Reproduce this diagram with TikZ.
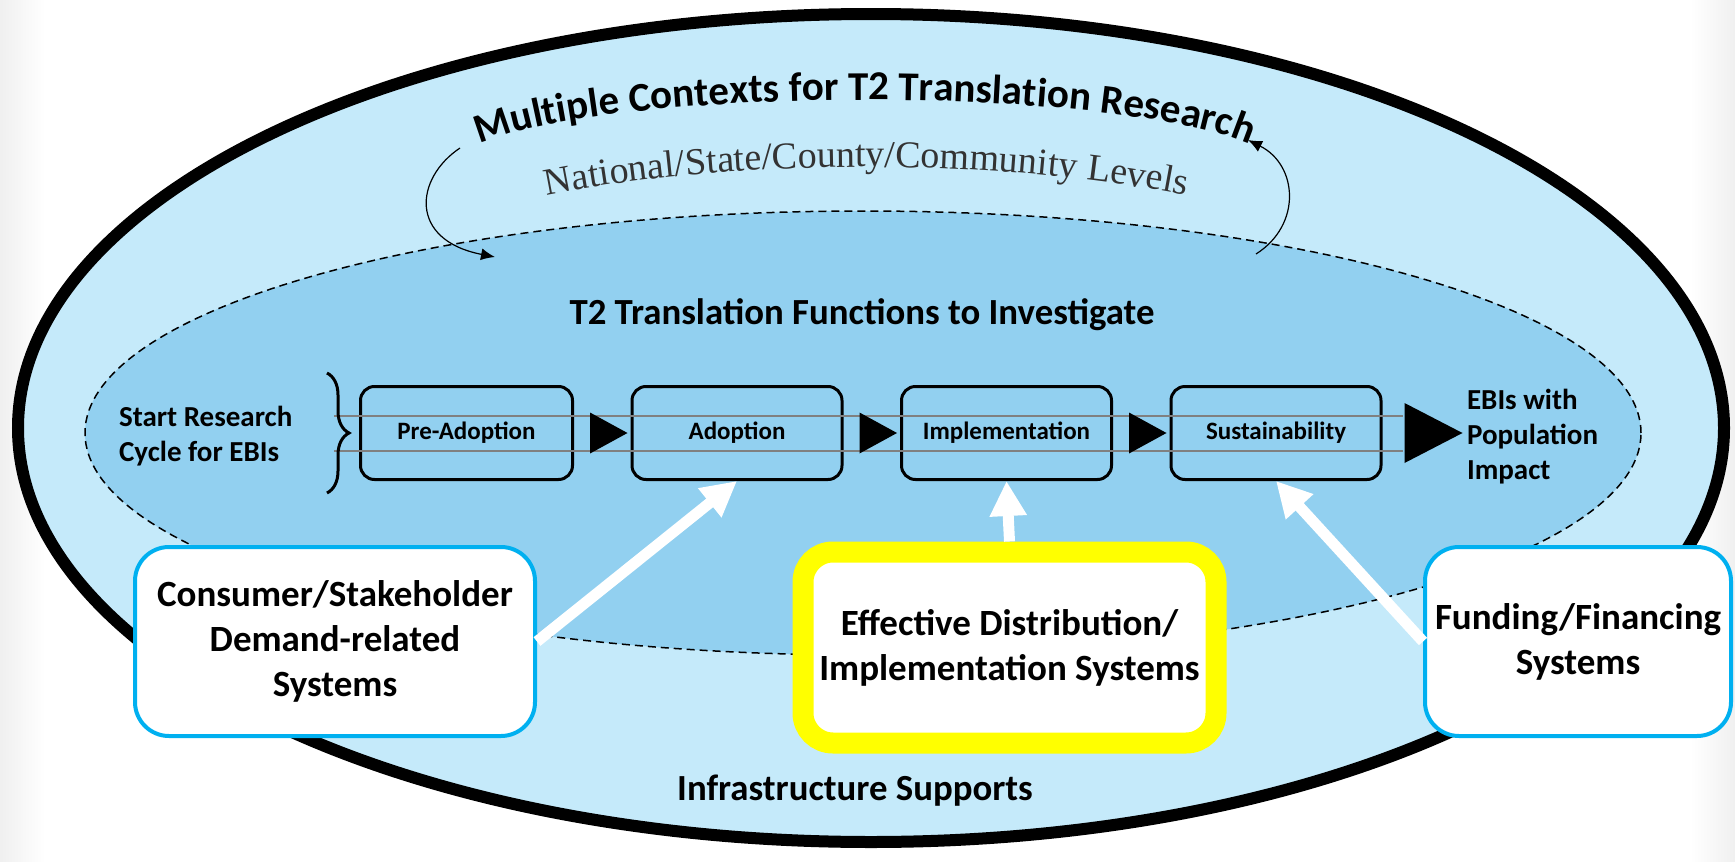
\documentclass[tikz,border=0pt]{standalone}
\usepackage{fontspec}
\setmainfont{Carlito}
\newfontfamily\levelfont{Liberation Serif}
\usetikzlibrary{positioning,calc,arrows.meta,decorations.text,decorations.pathreplacing}

\definecolor{outerblue}{RGB}{197,234,250}
\definecolor{innerblue}{RGB}{146,208,240}
\definecolor{boxblue}{RGB}{0,176,240}
\definecolor{hiyellow}{RGB}{255,255,0}

\tikzset{
  stage/.style={draw, line width=1.5pt, rounded corners=7pt, minimum width=105pt,
    minimum height=46.5pt, font=\fontsize{12.5pt}{15pt}\selectfont\bfseries},
  system/.style={draw=boxblue, fill=white, line width=2pt, rounded corners=17pt,
    minimum height=94.5pt, inner sep=2pt, align=center,
    font=\fontsize{18.5pt}{22.5pt}\selectfont\bfseries},
  whitearrow/.style={draw=white, line width=5.5pt, -{Triangle[length=17.5pt,width=17.5pt]}},
  loopedge/.style={line width=0.6pt, -{Latex[length=7pt,width=6pt]}},
  sidetext/.style={align=left, font=\fontsize{14.5pt}{17.5pt}\selectfont\bfseries},
  rail/.style={draw=black!50, line width=0.7pt},
}

\begin{document}
\begin{tikzpicture}[x=0.5pt,y=0.5pt]
    \useasboundingbox (0,0) rectangle (1735,-862);
    \fill[white] (0,0) rectangle (1735,-862);
    \shade[left color=black!6, right color=white] (0,0) rectangle (45,-862);
    \shade[left color=white, right color=black!6] (1690,0) rectangle (1735,-862);

    % Contexts and functions
    \draw[fill=outerblue, line width=6pt] (871,-428) ellipse[x radius=853, y radius=414];
    \draw[fill=innerblue, line width=0.75pt, dash pattern=on 4pt off 2.5pt]
        (863,-433) ellipse[x radius=778, y radius=222];

    % Curved headings
    \path[decorate, decoration={text along path, text align=center,
        text={|\fontsize{20.5pt}{24pt}\selectfont\bfseries|Multiple Contexts for T2 Translation Research}}]
        (475,-147) arc[start angle=162, end angle=18, x radius=410, y radius=68];
    \path[decorate, decoration={text along path, text align=center,
        text={|\fontsize{19pt}{22pt}\levelfont\color{black!80}|National/State/County/Community Levels}}]
        (549.1,-195) arc[start angle=126.9, end angle=53.1, x radius=528, y radius=140];

    \coordinate (loopLa) at (460,-148);
    \coordinate (loopLb) at (495,-257);
    \coordinate (loopRa) at (1256,-254);
    \coordinate (loopRb) at (1248,-140);
    \draw[loopedge] (loopLa) .. controls (415,-178) and (408,-240) .. (loopLb);
    \draw[loopedge] (loopRa) .. controls (1302,-225) and (1298,-165) .. (loopRb);

    \node[font=\fontsize{18.4pt}{22pt}\selectfont\bfseries] (functions) at (862,-315)
        {T2 Translation Functions to Investigate};

    % Research cycle
    \node[stage, minimum width=106pt] (pre) at (466.5,-433) {Pre-Adoption};
    \node[stage, right=28.25pt of pre] (adopt) {Adoption};
    \node[stage, right=28.25pt of adopt] (impl) {Implementation};
    \node[stage, right=28.25pt of impl] (sust) {Sustainability};

    \draw[rail] (334,-416) -- (1403,-416);
    \draw[rail] (334,-451) -- (1403,-451);

    \fill ($(pre.east)+(16,20.5)$) -- ($(pre.east)+(16,-20.5)$) -- ($(adopt.west)+(-3,0)$) -- cycle;
    \fill ($(adopt.east)+(16,20.5)$) -- ($(adopt.east)+(16,-20.5)$) -- ($(impl.west)+(-3,0)$) -- cycle;
    \fill ($(impl.east)+(16,20.5)$) -- ($(impl.east)+(16,-20.5)$) -- ($(sust.west)+(-3,0)$) -- cycle;
    \fill ($(sust.east)+(22,30)$) -- ($(sust.east)+(22,-30)$) -- ($(sust.east)+(80,0)$) -- cycle;

    \draw[line width=1.5pt, decorate, decoration={brace, amplitude=11pt}] (327,-373) -- (327,-493);

    \node[sidetext, anchor=west] (start) at (112,-436) {Start Research\\Cycle for EBIs};
    \node[sidetext, anchor=west] (impact) at (1460,-437) {EBIs with\\Population\\Impact};

    % Infrastructure supports
    \node[system] (consumer) at (335,-641.5) [minimum width=200pt]
        {Consumer/Stakeholder\\Demand-related\\Systems};
    \node[system, draw=hiyellow, line width=10.5pt, rounded corners=15pt, minimum height=95.5pt]
        (effective) at (1009.5,-647.5) [minimum width=206.5pt]
        {Effective Distribution/\\Implementation Systems};
    \node[system] (funding) at (1578,-641.5) [minimum width=153pt] {Funding/Financing\\Systems};

    \draw[whitearrow] (consumer.east) -- (adopt.south);
    \draw[whitearrow] (effective.north) -- (impl.south);
    \draw[whitearrow] (funding.west) -- (sust.south);

    \node[font=\fontsize{18.4pt}{22pt}\selectfont\bfseries] (infra) at (855,-791) {Infrastructure Supports};
\end{tikzpicture}
\end{document}
